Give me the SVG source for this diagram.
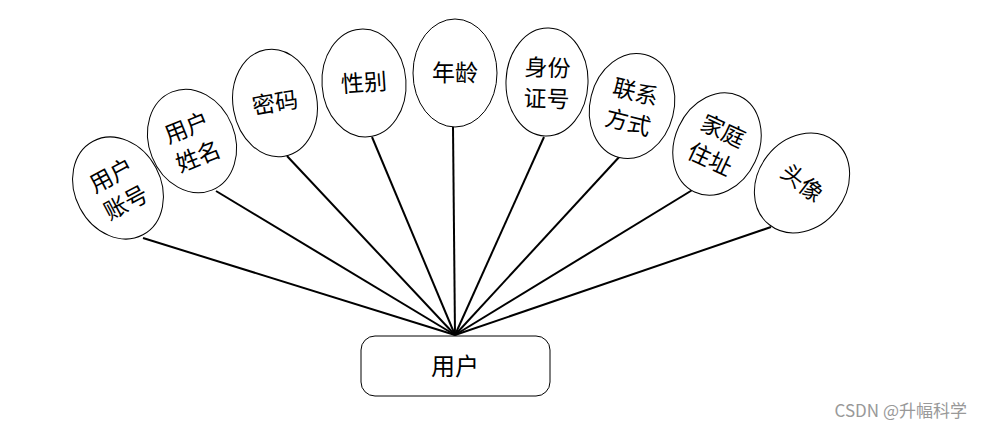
<svg xmlns="http://www.w3.org/2000/svg" width="983" height="429" viewBox="0 0 983 429">
<style>
.e{fill:#fff;stroke:#000;stroke-width:1}
.t{font-family:"Noto Sans CJK SC","Noto Sans",sans-serif;font-size:23px;fill:#000;text-anchor:middle}
.c line{stroke:#000;stroke-width:2}
</style>
<rect width="983" height="429" fill="#fff"/>
<g class="c" id="connectors">
<line x1="143" y1="238" x2="455" y2="335"/>
<line x1="216" y1="191" x2="455" y2="335"/>
<line x1="287" y1="156" x2="455" y2="335"/>
<line x1="372" y1="137" x2="455" y2="335"/>
<line x1="453" y1="127" x2="455" y2="335"/>
<line x1="544" y1="137" x2="455" y2="335"/>
<line x1="621" y1="155" x2="455" y2="335"/>
<line x1="694" y1="189" x2="455" y2="335"/>
<line x1="771" y1="227" x2="455" y2="335"/>
</g>
<g id="n1" transform="translate(118,188) rotate(-28)"><ellipse class="e" rx="43" ry="53"/><text class="t" y="-6">用户</text><text class="t" y="25">账号</text></g>
<g id="n2" transform="translate(192,141) rotate(-22)"><ellipse class="e" rx="43" ry="53"/><text class="t" y="-6">用户</text><text class="t" y="25">姓名</text></g>
<g id="n3" transform="translate(275,103) rotate(-10)"><ellipse class="e" rx="42" ry="54"/><text class="t" y="8">密码</text></g>
<g id="n4" transform="translate(364,83) rotate(-4)"><ellipse class="e" rx="42" ry="54"/><text class="t" y="8">性别</text></g>
<g id="n5" transform="translate(455,73)"><ellipse class="e" rx="42" ry="54"/><text class="t" y="8">年龄</text></g>
<g id="n6" transform="translate(547,82) rotate(2)"><ellipse class="e" rx="41" ry="54"/><text class="t" y="-6">身份</text><text class="t" y="25">证号</text></g>
<g id="n7" transform="translate(632,106) rotate(14)"><ellipse class="e" rx="42" ry="53"/><text class="t" y="-6">联系</text><text class="t" y="25">方式</text></g>
<g id="n8" transform="translate(717,144) rotate(25)"><ellipse class="e" rx="42" ry="53"/><text class="t" y="-6">家庭</text><text class="t" y="25">住址</text></g>
<g id="n9" transform="translate(802,183) rotate(38)"><ellipse class="e" rx="44" ry="53"/><text class="t" y="8">头像</text></g>
<g id="user"><rect x="361" y="336" width="189" height="60" rx="14" fill="#fff" stroke="#000" stroke-width="1"/><text class="t" x="455" y="375" style="font-size:24px">用户</text></g>
<text x="967" y="417" font-family="'Noto Sans CJK SC',sans-serif" font-size="17" fill="#999" text-anchor="end">CSDN @升幅科学</text>
</svg>
